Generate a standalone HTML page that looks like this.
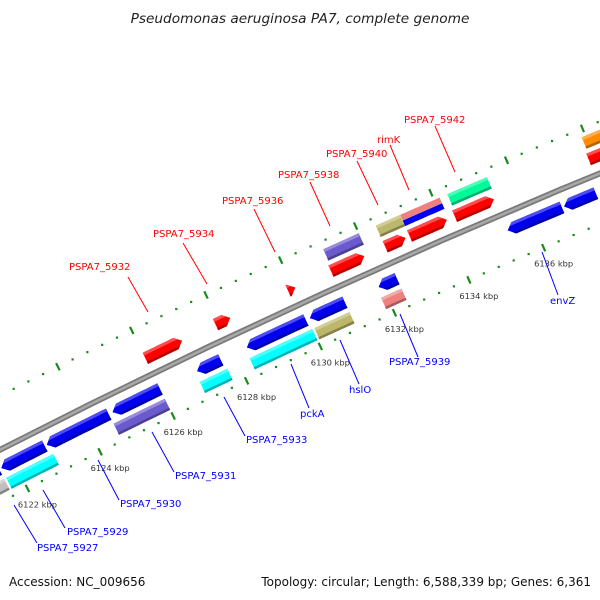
<!DOCTYPE html>
<html><head><meta charset="utf-8"><style>
body{margin:0;background:#fff;overflow:hidden}
svg{display:block;font-family:"DejaVu Sans","Liberation Sans",sans-serif;overflow:hidden}
</style></head><body>
<svg id="map" width="600" height="600" viewBox="0 0 600 600">
<defs id="defs"></defs>
<text x="300" y="23" text-anchor="middle" font-size="13.7" font-style="italic" fill="#222">Pseudomonas aeruginosa PA7, complete genome</text>
<g id="rulers"></g>
<g id="backbone"></g>
<g id="genes"></g>
<g id="labels"></g>
<text x="9" y="586" font-size="12" fill="#111">Accession: NC_009656</text>
<text x="591" y="586" font-size="12" fill="#111" text-anchor="end">Topology: circular; Length: 6,588,339 bp; Genes: 6,361</text>
</svg>
<script>
// data
const geneStart = [6120.0,6121.65,6120.5,6121.65,6122.9,6124.7,6124.6,6126.0,6127.0,6126.95,6127.9,6128.35,6128.3,6130.05,6130.05,6129.85,6131.05,6131.0,6131.9,6131.85,6132.45,6132.45,6133.1,6133.1,6133.1,6134.35,6134.3,6135.35,6136.85,6137.9,6137.85];
const geneEnd   = [6121.6,6122.95,6121.6,6122.85,6124.6,6126.0,6126.0,6127.0,6127.65,6127.7,6128.3,6129.95,6130.0,6131.0,6131.0,6130.05,6132.0,6131.9,6132.4,6132.4,6133.1,6133.0,6134.15,6134.15,6134.1,6135.4,6135.35,6136.8,6137.7,6139.5,6139.5];
const geneLane  = [-2,-2,-1,-1,-1,-1,-2,1,-1,-2,1,-1,-2,-1,-2,1,2,1,-1,-2,2,1,2.25,1.75,1,2,1,-1,-1,2,1];
const geneStrand= [0,0,-1,-1,-1,-1,0,1,-1,0,1,-1,0,-1,0,1,0,1,-1,0,0,1,0,0,1,0,1,-1,-1,0,1];
const geneColor = ["#c0c0c0","#00ffff","#0000ee","#0000ee","#0000ee","#0000ee","#6a5acd","#ff0000","#0000ee","#00ffff","#ff0000","#0000ee","#00ffff","#0000ee","#bdb76b","#ff0000","#6a5acd","#ff0000","#0000ee","#f08080","#bdb76b","#ff0000","#f08080","#0000ee","#ff0000","#00fa9a","#ff0000","#0000ee","#0000ee","#ff8c00","#ff0000"];
const majorTicks = [6122,6124,6126,6128,6130,6132,6134,6136];
const tickLabels = ["6122 kbp","6124 kbp","6126 kbp","6128 kbp","6130 kbp","6132 kbp","6134 kbp","6136 kbp"];
const topLabels = ["PSPA7_5932","PSPA7_5934","PSPA7_5936","PSPA7_5938","PSPA7_5940","rimK","PSPA7_5942"];
const bottomLabels = ["PSPA7_5927","PSPA7_5929","PSPA7_5930","PSPA7_5931","PSPA7_5933","pckA","hslO","PSPA7_5939","envZ"];

const NS="http://www.w3.org/2000/svg";
const CX=3732, CY=7759, K0=6122, A0=-117, DA=4/14;
const RB=8207, LANE=17, TH=12.5;
function P(k,r){const a=(A0+(k-K0)*DA)*Math.PI/180;return [CX+r*Math.cos(a),CY+r*Math.sin(a)];}
function mk(tag,attrs,parent){const e=document.createElementNS(NS,tag);for(const k in attrs)e.setAttribute(k,attrs[k]);parent.appendChild(e);return e;}
function shade(hex,f){let n=parseInt(hex.slice(1),16),r=n>>16,g=(n>>8)&255,b=n&255;
 const m=c=>f>0?Math.round(c+(255-c)*f):Math.round(c*(1+f));return `rgb(${m(r)},${m(g)},${m(b)})`;}
function arcPts(k1,k2,r){const pts=[];const n=8;for(let i=0;i<=n;i++){pts.push(P(k1+(k2-k1)*i/n,r));}return pts;}
function fmt(pts){return pts.map(p=>p[0].toFixed(1)+","+p[1].toFixed(1)).join(" ");}
function shapePts(k1,k2,r0,r1,strand){
 const head=Math.min(0.17,(k2-k1));const rm=(r0+r1)/2;let pts=[];
 if(strand===1){pts=pts.concat(arcPts(k1,k2-head,r1));pts.push(P(k2,rm));pts=pts.concat(arcPts(k2-head,k1,r0));}
 else if(strand===-1){pts=pts.concat(arcPts(k1+head,k2,r1));pts=pts.concat(arcPts(k2,k1+head,r0));pts.push(P(k1,rm));}
 else{pts=pts.concat(arcPts(k1,k2,r1));pts=pts.concat(arcPts(k2,k1,r0));}
 return fmt(pts);}

// rulers
const rg=document.getElementById('rulers');
[RB+48,RB-47].forEach(r=>{
 for(let k=6118;k<=6142.01;k+=0.4){
  const kk=Math.round(k*10)/10;
  const major=Math.abs(kk/2-Math.round(kk/2))<1e-6;
  if(major){const a=P(kk,r-4),b=P(kk,r+4);
   const t=mk('line',{x1:a[0],y1:a[1],x2:b[0],y2:b[1],stroke:'#1a8a1a','stroke-width':2.2},rg);
   
   
  } else {const a=P(kk,r);
   const d=mk('rect',{x:a[0]-1.1,y:a[1]-1.1,width:2.2,height:2.2,fill:'#1a8a1a'},rg);
   
   }
 }});
majorTicks.forEach((k,i)=>{const a=P(k,RB-47);
 const t=mk('text',{x:a[0]+10,y:a[1]+19,'font-size':8.3,fill:'#333','text-anchor':'middle'},rg);
 t.textContent=tickLabels[i];
 
 });

// backbone
const bg=document.getElementById('backbone');
const bp=fmt(arcPts(6115,6140,RB));
const b1=mk('polyline',{points:bp,fill:'none',stroke:'#7a7a7a','stroke-width':6},bg);


mk('polyline',{points:bp,fill:'none',stroke:'#a8a8a8','stroke-width':2.5},bg);

// genes
const gg=document.getElementById('genes');
const defs=document.getElementById('defs');
geneStart.forEach((s,i)=>{
 const e=geneEnd[i],L=geneLane[i];let rc,th;
 if(Math.abs(L-Math.round(L))>0.1){th=TH/2;rc=RB+2*LANE+(L>2?TH/4:-TH/4);}
 else{rc=RB+L*LANE;th=TH;}
 const r0=rc-th/2,r1=rc+th/2,c=geneColor[i];
 const shape=shapePts(s,e,r0,r1,geneStrand[i]);
 const cp=mk('clipPath',{id:'cp'+i},defs);
 mk('polygon',{points:shape},cp);
 const g=mk('g',{'clip-path':'url(#cp'+i+')'},gg);
 
 
 mk('polygon',{points:shape,fill:c},g);
 if(th>7){
  mk('polygon',{points:fmt(arcPts(s-0.1,e+0.1,r1+2).concat(arcPts(e+0.1,s-0.1,r1-th*0.25))),fill:shade(c,0.3)},g);
  mk('polygon',{points:fmt(arcPts(s-0.1,e+0.1,r0+th*0.2).concat(arcPts(e+0.1,s-0.1,r0-2))),fill:shade(c,-0.3)},g);
 }
});

// labels
const lg=document.getElementById('labels');
const topPos=[[69,270,128,277,148,312],[153,237,183,243,207,284],[222,204,254,209,275,252],[278,178,310,182,330,226],[326,157,357,161,378,205],[377,143,390,145,409,190],[404,123,435,126,455,172]];
const botPos=[[37,551,14,505,37,543],[67,535,43,490,65,528],[120,507,98,460,119,500],[175,479,152,432,174,472],[246,443,224,397,245,436],[300,417,291,364,309,408],[349,393,340,340,359,384],[389,365,400,314,418,357],[550,304,542,252,558,295]];
topLabels.forEach((t,i)=>{const p=topPos[i];
 mk('line',{x1:p[2],y1:p[3],x2:p[4],y2:p[5],stroke:'#ff0000','stroke-width':1},lg);
 const e=mk('text',{x:p[0],y:p[1],'font-size':10,fill:'#ff0000'},lg);e.textContent=t;
 
 });
bottomLabels.forEach((t,i)=>{const p=botPos[i];
 mk('line',{x1:p[2],y1:p[3],x2:p[4],y2:p[5],stroke:'#0000ff','stroke-width':1},lg);
 const e=mk('text',{x:p[0],y:p[1],'font-size':10,fill:'#0000ff'},lg);e.textContent=t;
 
 });
</script>
</body></html>
